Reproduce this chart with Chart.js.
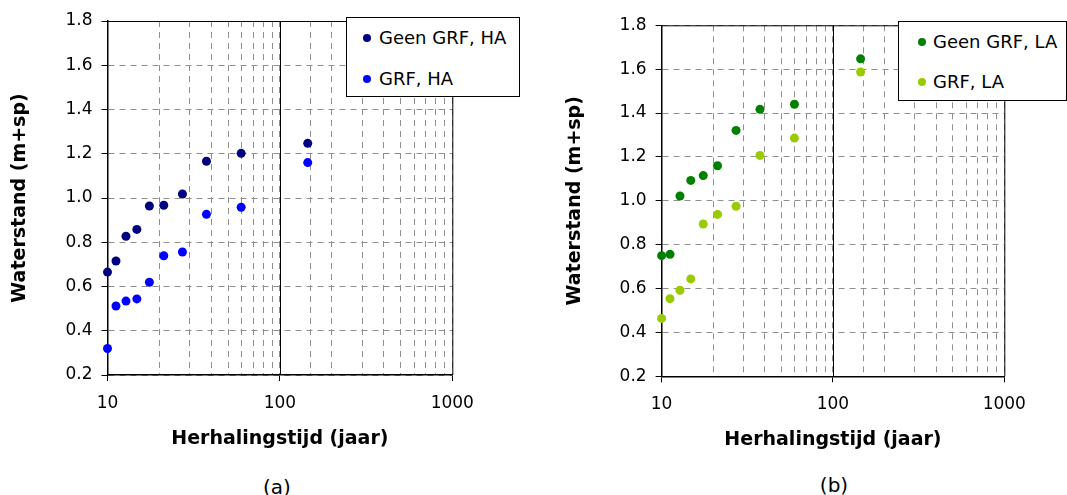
<!DOCTYPE html>
<html>
<head>
<meta charset="utf-8">
<script src="https://cdn.jsdelivr.net/npm/chart.js@4.4.1/dist/chart.umd.min.js"></script>
<style>
  body { margin: 0; background: #fff; width: 1067px; height: 495px; overflow: hidden; position: relative; font-family: "DejaVu Sans", Verdana, sans-serif; }
  .panel { position: absolute; top: 0; height: 460px; }
  .legend { position: absolute; background: #fff; border: 1px solid #000; box-sizing: border-box; }
  .legend .item { position: absolute; font-size: 18px; color: #000; white-space: nowrap; line-height: 20px; }
  .legend .dot { position: absolute; width: 8px; height: 8px; border-radius: 50%; }
  .caption { position: absolute; font-size: 20px; color: #000; transform: translate(-50%, -50%); }
</style>
</head>
<body>
<div class="panel" style="left:0;width:530px"><canvas id="chartA"></canvas></div>
<div class="panel" style="left:530px;width:537px"><canvas id="chartB"></canvas></div>
<div class="legend" id="legendA" style="left:346px;top:17px;width:174px;height:80px"></div>
<div class="legend" id="legendB" style="left:898px;top:21px;width:169px;height:80px"></div>
<div class="caption" style="left:277px;top:487px">(a)</div>
<div class="caption" style="left:834px;top:485px">(b)</div>
<script>
// herhalingstijd (jaar), same for all series
const years = [10, 11.2, 12.8, 14.8, 17.5, 21.2, 27.2, 37.5, 59.6, 145];

const geenGrfHA = [0.665, 0.715, 0.827, 0.858, 0.964, 0.967, 1.018, 1.166, 1.202, 1.247];
const grfHA     = [0.32, 0.512, 0.534, 0.544, 0.619, 0.739, 0.756, 0.926, 0.958, 1.16];
const geenGrfLA = [0.75, 0.756, 1.022, 1.093, 1.115, 1.16, 1.321, 1.417, 1.44, 1.647];
const grfLA     = [0.464, 0.554, 0.592, 0.644, 0.894, 0.938, 0.975, 1.207, 1.286, 1.587];

const xLabels = [10, 100, 1000];
const yTicks = { min: 0.2, max: 1.8, step: 0.2 };

const FONT = '"DejaVu Sans", Verdana, sans-serif';

const frame = {
  id: 'frame',
  beforeDatasetsDraw(chart) {
    const { ctx, chartArea: a, scales: { x } } = chart;
    ctx.save();
    ctx.strokeStyle = '#000';
    ctx.lineWidth = 1;
    ctx.beginPath();
    ctx.moveTo(a.left, a.top + 0.5);
    ctx.lineTo(a.right + 0.5, a.top + 0.5);
    ctx.lineTo(a.right + 0.5, a.bottom);
    const px = Math.round(x.getPixelForValue(100)) + 0.5;
    ctx.moveTo(px, a.top);
    ctx.lineTo(px, a.bottom);
    ctx.stroke();
    ctx.restore();
  }
};

function makeChart(id, series, lay) {
  const datasets = series.map(s => ({
    label: s.name,
    data: years.map((yr, i) => ({ x: yr, y: s.values[i] })),
    backgroundColor: s.color,
    borderWidth: 0,
    pointRadius: 4.5,
    pointHoverRadius: 4.5,
    clip: false
  }));

  new Chart(document.getElementById(id), {
    type: 'scatter',
    data: { datasets },
    plugins: [frame],
    options: {
      responsive: true,
      maintainAspectRatio: false,
      animation: false,
      layout: { padding: { top: lay.top, right: lay.right, bottom: 0, left: 0 } },
      plugins: { legend: { display: false }, tooltip: { enabled: false } },
      scales: {
        x: {
          type: 'logarithmic',
          min: 10,
          max: 1000,
          afterFit: s => { s.height = lay.xHeight; },
          border: { color: '#000', width: 1.5, dash: [6, 5] },
          grid: {
            color: '#8f8f8f',
            lineWidth: 1,
            tickLength: 6,
            tickColor: c => xLabels.includes(c.tick.value) ? '#000' : 'rgba(0,0,0,0)'
          },
          ticks: {
            autoSkip: false,
            maxRotation: 0,
            padding: 12,
            color: '#000',
            font: { family: FONT, size: 17 },
            callback: v => xLabels.includes(v) ? String(v) : ''
          },
          title: {
            display: true,
            text: 'Herhalingstijd (jaar)',
            color: '#000',
            font: { family: FONT, size: 19, weight: 'bold' },
            padding: { top: 0, bottom: lay.xTitlePad }
          }
        },
        y: {
          min: yTicks.min,
          max: yTicks.max,
          afterFit: s => { s.width = lay.yWidth; },
          border: { color: '#000', width: 1.5, dash: [6, 5] },
          grid: { color: '#8f8f8f', lineWidth: 1, tickLength: 6, tickColor: '#000' },
          ticks: {
            stepSize: yTicks.step,
            padding: 9,
            color: '#000',
            font: { family: FONT, size: 17 },
            callback: v => v.toFixed(1)
          },
          title: {
            display: true,
            text: 'Waterstand (m+sp)',
            color: '#000',
            font: { family: FONT, size: 19, weight: 'bold' },
            padding: { top: lay.yTitlePad, bottom: 0 }
          }
        }
      }
    }
  });
}

function makeLegend(id, series, pos) {
  const box = document.getElementById(id);
  series.forEach((s, i) => {
    const cy = pos.top + i * pos.gap;
    const dot = document.createElement('span');
    dot.className = 'dot';
    dot.style.background = s.color;
    dot.style.left = (pos.dotX - 4) + 'px';
    dot.style.top = (cy - 4) + 'px';
    box.appendChild(dot);
    const item = document.createElement('span');
    item.className = 'item';
    item.textContent = s.name;
    item.style.left = pos.textX + 'px';
    item.style.top = (cy - 10) + 'px';
    box.appendChild(item);
  });
}

const seriesA = [
  { name: 'Geen GRF, HA', values: geenGrfHA, color: '#000080' },
  { name: 'GRF, HA', values: grfHA, color: '#0000ff' }
];
const seriesB = [
  { name: 'Geen GRF, LA', values: geenGrfLA, color: '#008000' },
  { name: 'GRF, LA', values: grfLA, color: '#99cc00' }
];

makeChart('chartA', seriesA, { top: 21, right: 77.7, xHeight: 85, yWidth: 107.5, xTitlePad: 9.8, yTitlePad: 8.6 });
makeChart('chartB', seriesB, { top: 25.3, right: 62.7, xHeight: 83.7, yWidth: 131.6, xTitlePad: 8.6, yTitlePad: 33.2 });

makeLegend('legendA', seriesA, { dotX: 20, textX: 32, top: 20, gap: 41 });
makeLegend('legendB', seriesB, { dotX: 23, textX: 34, top: 20, gap: 40 });
</script>
</body>
</html>
